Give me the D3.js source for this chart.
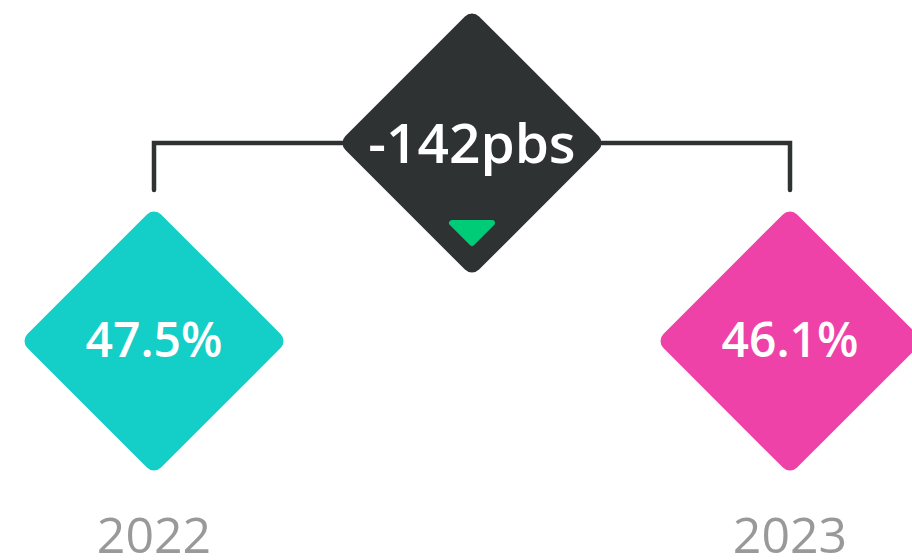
<!DOCTYPE html>
<html>
<head>
<meta charset="utf-8">
<script src="https://cdn.jsdelivr.net/npm/d3@7"></script>
<style>
  html, body { margin: 0; padding: 0; background: #fff; overflow: hidden; }
  svg { display: block; }
</style>
</head>
<body>
<svg width="912" height="560"></svg>
<script>
// data
var years = ["2022", "2023"];
var values = [47.5, 46.1];
var colors = ["#13cfc8", "#ee42a9"];
var changeLabel = "-142pbs";

var svg = d3.select("svg"),
    width = +svg.attr("width"),
    height = +svg.attr("height");

var x = d3.scalePoint().domain(years).range([154, 790]),
    fmt = function(v) { return d3.format(".1f")(v) + "%"; };

var side = 189, r = 10,
    rowY = 341, topY = 143,
    midX = (x(years[0]) + x(years[1])) / 2;

var font = "'Open Sans', 'Noto Sans', sans-serif";

// bracket joining the two years
svg.append("path")
    .attr("d", "M" + x(years[0]) + "," + 190 + "V" + topY + "H" + x(years[1]) + "V" + 190)
    .attr("fill", "none")
    .attr("stroke", "#2e3233")
    .attr("stroke-width", 4.5)
    .attr("stroke-linecap", "round")
    .attr("stroke-linejoin", "miter");

function diamond(g, cx, cy, fill) {
  g.append("rect")
      .attr("x", -side / 2)
      .attr("y", -side / 2)
      .attr("width", side)
      .attr("height", side)
      .attr("rx", r)
      .attr("fill", fill)
      .attr("transform", "translate(" + cx + "," + cy + ") rotate(45)");
}

// change badge
var mid = svg.append("g");
diamond(mid, midX, topY, "#2e3233");

mid.append("text")
    .attr("x", midX)
    .attr("y", 163)
    .attr("text-anchor", "middle")
    .style("font", "600 55px " + font)
    .attr("fill", "#fff")
    .text(changeLabel);

mid.append("path")
    .attr("d", "M" + (midX - 20) + ",223H" + (midX + 20) + "L" + midX + ",243Z")
    .attr("fill", "#00cc77")
    .attr("stroke", "#00cc77")
    .attr("stroke-width", 6)
    .attr("stroke-linejoin", "round");

// year diamonds
var item = svg.selectAll(".item")
  .data(years.map(function(y, i) { return {year: y, value: values[i], color: colors[i]}; }))
  .enter().append("g")
    .attr("class", "item");

item.each(function(d) { diamond(d3.select(this), x(d.year), rowY, d.color); });

item.append("text")
    .attr("x", function(d) { return x(d.year); })
    .attr("y", 357)
    .attr("text-anchor", "middle")
    .style("font", "600 48px " + font)
    .attr("fill", "#fff")
    .text(function(d) { return fmt(d.value); });

item.append("text")
    .attr("x", function(d) { return x(d.year); })
    .attr("y", 553)
    .attr("text-anchor", "middle")
    .style("font", "400 50px " + font)
    .attr("fill", "#999")
    .text(function(d) { return d.year; });
</script>
</body>
</html>
